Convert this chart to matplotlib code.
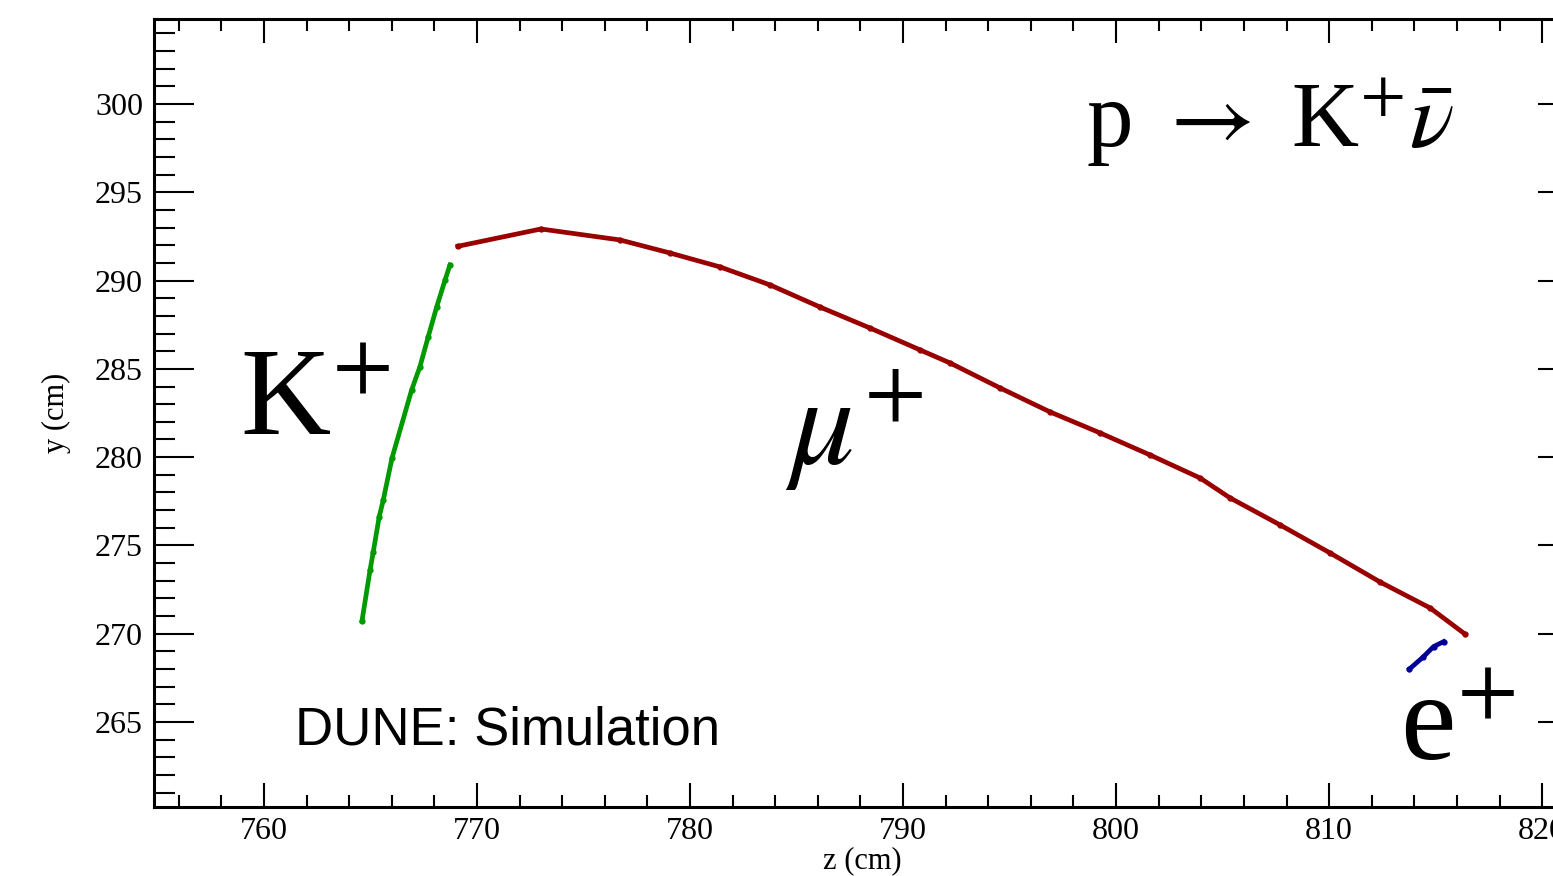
import matplotlib.pyplot as plt
from matplotlib.ticker import MultipleLocator

plt.rcParams["mathtext.fontset"] = "stix"

# track points (z, y in cm)
kaon_z = [764.60, 764.98, 765.13, 765.41, 765.60, 766.01, 766.93, 767.32, 767.71, 768.11, 768.50, 768.73]
kaon_y = [270.72, 273.61, 274.64, 276.63, 277.57, 279.95, 283.80, 285.12, 286.82, 288.52, 290.03, 290.88]

muon_z = [769.10, 773.00, 776.71, 779.06, 781.41, 783.76, 786.10, 788.45, 790.80, 792.21, 794.55,
          796.90, 799.25, 801.60, 803.94, 805.35, 807.70, 810.05, 812.39, 814.74, 816.38]
muon_y = [291.94, 292.92, 292.30, 291.56, 290.77, 289.75, 288.50, 287.31, 286.07, 285.33, 283.92,
          282.56, 281.37, 280.12, 278.82, 277.69, 276.16, 274.57, 272.93, 271.46, 269.98]

positron_z = [813.77, 814.43, 814.90, 815.37]
positron_y = [268.00, 268.70, 269.27, 269.55]

fig = plt.figure(figsize=(15.53, 8.76), dpi=100)
ax = fig.add_axes([0.0992, 0.0788, 0.917, 0.8995])

ax.plot(kaon_z, kaon_y, color="#009900", lw=3.4, marker="o", ms=3.5)
ax.plot(muon_z, muon_y, color="#990000", lw=3.4, marker="o", ms=3.5)
ax.plot(positron_z, positron_y, color="#000099", lw=3.4, marker="o", ms=3.5)

ax.set_xlim(754.84, 821.69)
ax.set_ylim(260.19, 304.81)

ax.xaxis.set_major_locator(MultipleLocator(10))
ax.xaxis.set_minor_locator(MultipleLocator(2))
ax.yaxis.set_major_locator(MultipleLocator(5))
ax.yaxis.set_minor_locator(MultipleLocator(1))

ax.tick_params(which="both", direction="in", top=True, right=True, width=1.5,
               labelsize=23, labelfontfamily="Liberation Serif")
ax.tick_params(axis="x", which="major", length=17, pad=7)
ax.tick_params(axis="x", which="minor", length=8.6)
ax.tick_params(axis="y", which="major", length=29, pad=8)
ax.tick_params(axis="y", which="minor", length=15)
for s in ax.spines.values():
    s.set_linewidth(2.2)

ax.set_xlabel("z (cm)", fontsize=22, family="Liberation Serif")
ax.set_ylabel("y (cm)", fontsize=22, family="Liberation Serif")
ax.xaxis.set_label_coords(0.497, -0.05)
ax.yaxis.set_label_coords(-0.058, 0.5)

ax.text(758.87, 281.25, "K$^{+}$", fontsize=90, family="Liberation Serif", va="baseline")
ax.text(784.45, 279.55, r"$\mu^{+}$", fontsize=92, va="baseline")
ax.text(813.33, 262.85, "e$^{+}$", fontsize=90, family="Liberation Serif", va="baseline")
ax.text(798.60, 297.55, r"p $\rightarrow$ K$^{+}\bar{\nu}$", fontsize=67,
        family="Liberation Serif", va="baseline")
ax.text(761.46, 263.70, "DUNE: Simulation", fontsize=38, family="Liberation Sans", va="baseline")

fig.savefig("out.png", dpi=100)
